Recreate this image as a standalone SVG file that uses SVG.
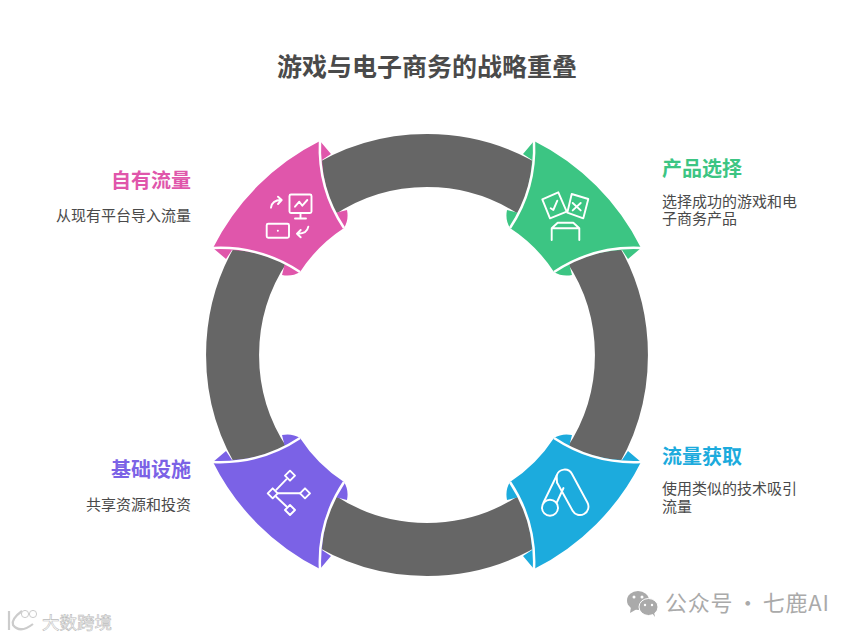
<svg xmlns="http://www.w3.org/2000/svg" width="854" height="638" viewBox="0 0 854 638">
<style>
text{font-family:"Noto Sans CJK SC","Liberation Sans",sans-serif}
.title{font-size:25px;font-weight:700;fill:#4a4a4a;text-anchor:middle}
.lab{font-size:20px;font-weight:700}
.desc{font-size:15px;fill:#4a4a4a}
.end{text-anchor:end}
.seam{fill:none;stroke:#fff;stroke-width:2.5}
.ico{fill:none;stroke:#fff;stroke-width:1.9;stroke-linecap:round;stroke-linejoin:round}
.ring{fill:none;stroke:#666;stroke-width:53}
.wm{font-size:22px;fill:#aaa;letter-spacing:.8px;word-spacing:-2.5px}
</style>
<defs>
<g id="wedge">
<path d="M-107,-214 L-96,-201 L-105,-195 A145 145 0 0 0 -92,-142 L-80,-145 Q-78,-135 -83,-127 A150 150 0 0 0 -127,-83 Q-135,-78 -145,-80 L-142,-92 A145 145 0 0 0 -195,-105 L-201,-96 L-214,-107 A239 239 0 0 1 -107,-214 Z"/>
<path class="seam" d="M-107,-214 A145 145 0 0 0 -83,-127"/>
<path class="seam" d="M-214,-107 A145 145 0 0 1 -127,-83"/>
</g>
</defs>
<rect width="854" height="638" fill="#fff"/>
<text class="title" x="427" y="76">游戏与电子商务的战略重叠</text>
<g id="connectors">
<path class="ring" d="M318.7,193.5 A194.5 194.5 0 0 1 535.3,193.5"/>
<path class="ring" d="M588.5,246.7 A194.5 194.5 0 0 1 588.5,463.3"/>
<path class="ring" d="M535.3,516.5 A194.5 194.5 0 0 1 318.7,516.5"/>
<path class="ring" d="M265.5,463.3 A194.5 194.5 0 0 1 265.5,246.7"/>
</g>
<g id="node-own-traffic">
<use href="#wedge" fill="#E056AB" transform="translate(427,355)"/>
<g class="ico">
<rect x="289.5" y="194.5" width="22" height="18.5" rx="1.5"/>
<path d="M300.5,213V218.5M295,218.5H306M295,206.7L299.3,201.7L302.3,205.7L307.3,200"/>
<path d="M271,207.7Q272,200 281,200M278,196.7L281.7,200L278,204"/>
<rect x="266.7" y="223.7" width="22.3" height="14" rx="1.5"/>
<path d="M277.8,230.7h.1"/>
<path d="M308.3,226.7Q307,234 297.5,233.7M300.7,230L297,233.7L300.7,237.3"/>
</g>
<text class="lab end" x="191" y="188" fill="#E056AB">自有流量</text>
<text class="desc end" x="191" y="221">从现有平台导入流量</text>
</g>
<g id="node-product-selection">
<use href="#wedge" fill="#3CC583" transform="translate(427,355) scale(-1,1)"/>
<g class="ico">
<path d="M542.3,199.3L558.3,192.3L566.7,211.7L550,218.3Z"/>
<path d="M550.7,208.3L553.3,210L557.3,200.7"/>
<path d="M571.7,194L588.3,199L583.3,218.3L567.3,212.7Z"/>
<path d="M572.7,203L580.7,210.4M580.7,203L572.7,210.4"/>
<path d="M551.7,240V228.3L557.7,222.7H573.3L579.3,228.3V240M551.7,228.3H579.3"/>
</g>
<text class="lab" x="662" y="176" fill="#3CC583">产品选择</text>
<text class="desc" x="662" y="207">选择成功的游戏和电</text>
<text class="desc" x="662" y="224">子商务产品</text>
</g>
<g id="node-traffic-acquisition">
<use href="#wedge" fill="#1CABDD" transform="translate(427,355) scale(-1,-1)"/>
<g class="ico">
<path d="M556.7,475.5A8.3 8.3 0 0 1 572,474L587.4,502.5A8.3 8.3 0 0 1 572.6,510.7L557,482.5"/>
<path d="M556.7,475.5L543.5,502.5M557,482.5Q556.8,478 556.7,475.5M557,502L563.5,488"/>
<circle cx="550" cy="507.7" r="8"/>
</g>
<text class="lab" x="662" y="464" fill="#1CABDD">流量获取</text>
<text class="desc" x="662" y="494">使用类似的技术吸引</text>
<text class="desc" x="662" y="512">流量</text>
</g>
<g id="node-infrastructure">
<use href="#wedge" fill="#7B62E6" transform="translate(427,355) scale(1,-1)"/>
<g class="ico">
<path d="M272.7,488.3L277.7,493.3L272.7,498.3L267.7,493.3Z"/>
<path d="M290,470.7L295,475.7L290,480.7L285,475.7Z"/>
<path d="M305,488.3L310,493.3L305,498.3L300,493.3Z"/>
<path d="M290,505L295,510L290,515L285,510Z"/>
<path d="M276.2,489.8L286.5,479.2M277.7,493.3H300M276.2,496.8L286.5,506.5"/>
</g>
<text class="lab end" x="191" y="477" fill="#7B62E6">基础设施</text>
<text class="desc end" x="191" y="510">共享资源和投资</text>
</g>
<g id="watermark-left">
<path d="M9,611V630M22,611Q11,619 13,625Q20,634 33,624" fill="none" stroke="#ccc" stroke-width="2.2"/>
<circle cx="25" cy="614" r="3.6" fill="#fff" stroke="#ccc"/>
<circle cx="33" cy="614" r="3.6" fill="#fff" stroke="#ccc"/>
<text x="42" y="629" font-size="17.5" fill="#fff" stroke="#bbb" stroke-width=".6">大数跨境</text>
</g>
<g id="watermark-right">
<ellipse cx="638" cy="600.5" rx="11" ry="9.5" fill="#aaa"/>
<path d="M631,607L630,613L637,609Z" fill="#aaa"/>
<ellipse cx="648.5" cy="607" rx="9.5" ry="8.5" fill="#aaa" stroke="#fff"/>
<path d="M652,613L655,617L654,612Z" fill="#aaa"/>
<g fill="#fff"><circle cx="634" cy="597" r="1.5"/><circle cx="642" cy="597" r="1.5"/><circle cx="645" cy="605" r="1.2"/><circle cx="652" cy="605" r="1.2"/></g>
<text class="wm" x="665" y="611">公众号 · 七鹿AI</text>
</g>
</svg>
